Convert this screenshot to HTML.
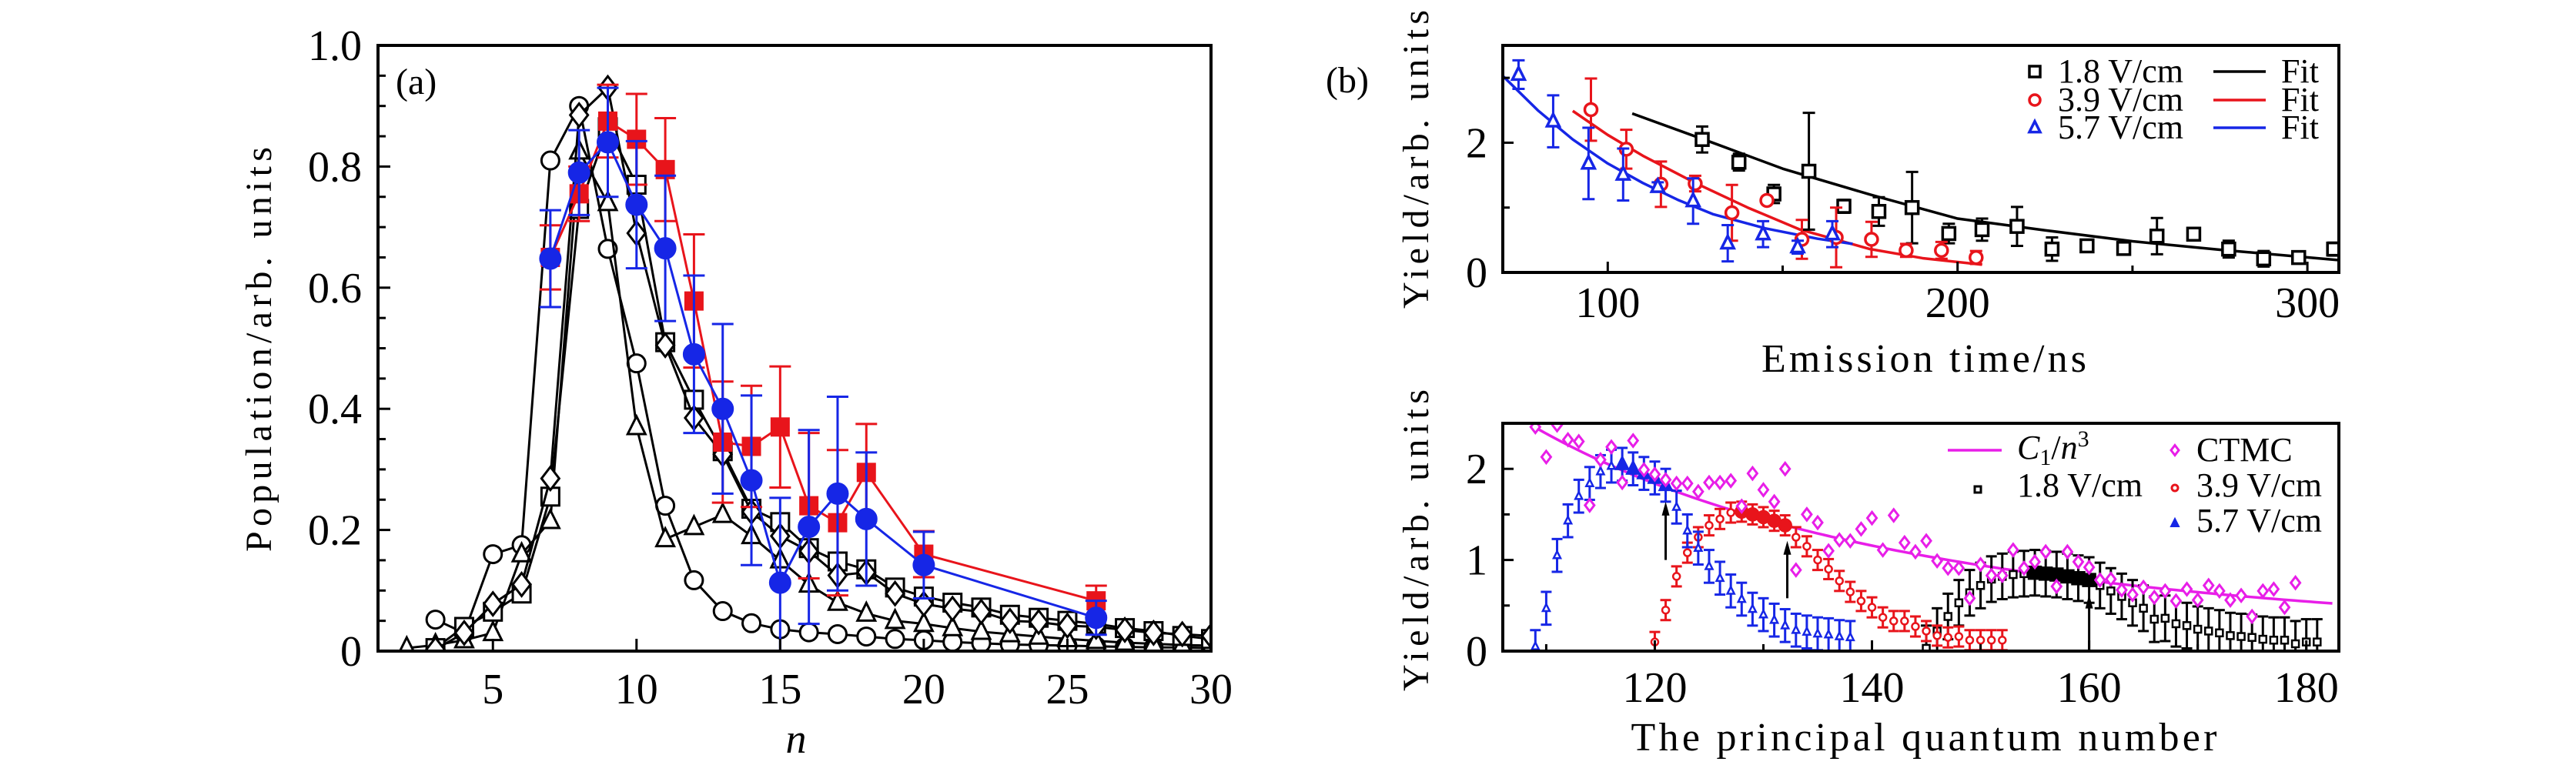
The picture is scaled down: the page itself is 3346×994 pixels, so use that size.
<!DOCTYPE html>
<html><head><meta charset="utf-8"><style>
html,body{margin:0;padding:0;background:#fff;}
svg{display:block;font-family:"Liberation Serif",serif;}
</style></head><body>
<svg id="fig" width="3346" height="994" viewBox="0 0 3346 994" xmlns="http://www.w3.org/2000/svg">
<defs>
<clipPath id="clipA"><rect x="491" y="40" width="1082" height="806"/></clipPath>
<clipPath id="clipB1"><rect x="1952" y="40" width="1086" height="314"/></clipPath>
<clipPath id="clipB2"><rect x="1952" y="550" width="1086" height="296"/></clipPath>
</defs>
</svg>
<script>
// ---------- Panel (a) data ----------
const aN = [2,3,4,5,6,7,8,9,10,11,12,13,14,15,16,17,18,19,20,21,22,23,24,25,26,27,28,29,30];
const aCircle = [null,0.052,0.03,0.16,0.175,0.81,0.90,0.664,0.475,0.24,0.117,0.066,0.046,0.036,0.031,0.028,0.024,0.02,0.018,0.015,0.013,0.011,0.01,0.009,0.008,0.007,0.006,0.006,0.005];
const aTriangle = [0.005,0.01,0.018,0.03,0.16,0.215,0.825,0.74,0.37,0.185,0.205,0.225,0.19,0.15,0.11,0.08,0.062,0.05,0.045,0.038,0.032,0.028,0.024,0.02,0.017,0.014,0.012,0.01,0.009];
const aSquare = [null,0.005,0.04,0.065,0.095,0.255,0.73,0.865,0.77,0.51,0.415,0.33,0.235,0.213,0.17,0.148,0.135,0.105,0.09,0.08,0.072,0.06,0.055,0.05,0.045,0.038,0.033,0.025,0.02];
const aDiamond = [null,0.003,0.03,0.078,0.11,0.285,0.885,0.93,0.69,0.505,0.385,0.325,0.23,0.19,0.165,0.125,0.13,0.095,0.078,0.07,0.065,0.05,0.048,0.042,0.04,0.035,0.03,0.028,0.025];
const aExpN = [7,8,9,10,11,12,13,14,15,16,17,18,20,26];
const aRed = [0.65,0.755,0.875,0.845,0.795,0.578,0.345,0.338,0.37,0.24,0.212,0.295,0.16,0.083];
const aRedErr = [0.053,0.045,0.06,0.075,0.085,0.11,0.1,0.1,0.1,0.12,0.12,0.08,0.038,0.025];
const aBlue = [0.648,0.79,0.84,0.737,0.665,0.49,0.4,0.282,0.113,0.205,0.26,0.218,0.142,0.055];
const aBlueErr = [0.08,0.07,0.09,0.105,0.12,0.13,0.14,0.14,0.14,0.16,0.16,0.11,0.055,0.028];
const aXTicks = [5,10,15,20,25,30];
const aYTicks = [0,0.2,0.4,0.6,0.8,1.0];
const aYTickLabels = ["0","0.2","0.4","0.6","0.8","1.0"];

// ---------- Panel (b) top data ----------
const bBlackT = [127,137.5,147.5,157.5,167.5,177.5,187,197.5,207,217,227,237,247.5,257,267.5,277.5,287.5,297.5,307.5];
const bBlackY = [2.05,1.7,1.21,1.56,1.02,0.94,1.0,0.6,0.66,0.71,0.36,0.41,0.37,0.56,0.59,0.36,0.21,0.23,0.36];
const bBlackErr = [0.2,0.13,0.14,0.9,0.1,0.22,0.55,0.15,0.17,0.3,0.18,0.05,0.07,0.28,0.05,0.13,0.12,0.06,0.1];
const bRedT = [95.2,105.3,115.2,125,135.5,145.5,155.5,165.3,175.4,185.3,195.4,205.3];
const bRedY = [2.51,1.9,1.36,1.37,0.92,1.11,0.51,0.54,0.51,0.34,0.34,0.23];
const bRedErr = [0.48,0.3,0.35,0.12,0.43,0.05,0.3,0.46,0.27,0.1,0.13,0.1];
const bBlueT = [74.5,84.4,94.5,104.4,114.3,124.4,134.3,144.4,154.3,164.2];
const bBlueY = [3.05,2.33,1.68,1.51,1.32,1.1,0.45,0.59,0.39,0.59];
const bBlueErr = [0.22,0.4,0.55,0.4,0.07,0.35,0.28,0.2,0.1,0.2];
const fitBlackT = [107,130,150,175,200,225,250,275,309];
const fitBlackY = [2.45,2.0,1.6,1.2,0.83,0.65,0.48,0.35,0.19];
const fitRedT = [90,100,110,125,140,155,175,190,207];
const fitRedY = [2.49,2.12,1.8,1.38,1.0,0.66,0.36,0.22,0.12];
const fitBlueT = [70,80,90,100,110,120,130,145,160,170];
const fitBlueY = [3.03,2.5,2.05,1.68,1.38,1.12,0.9,0.68,0.52,0.44];
const b1XTicks = [100,200,300];
const b1YTicks = [0,2];

// ---------- Panel (b) bottom data ----------
const ctmcStartN = 109;
const ctmcY = [2.46,2.13,2.48,2.32,2.3,1.6,2.1,2.24,1.85,2.31,1.99,1.94,1.88,1.84,1.84,1.75,1.85,1.85,1.87,1.59,1.95,1.77,1.64,2.0,0.89,1.5,1.41,1.1,1.22,1.21,1.34,1.46,1.11,1.49,1.19,1.09,1.21,0.99,0.91,0.91,0.58,0.95,0.83,0.83,1.11,0.91,0.98,1.09,0.71,1.09,0.98,0.92,0.78,0.79,0.67,0.62,0.7,0.59,0.66,0.55,0.68,0.56,0.72,0.66,0.56,0.61,0.38,0.66,0.68,0.48,0.75];
const c1Params = [2.46, 108.9];
const c1Range = [108.9,182.5];
const blueStartN = 109;
const blueY = [0.05,0.47,1.05,1.43,1.7,1.84,1.97,2.03,2.05,2.0,1.95,1.9,1.82,1.58,1.32,1.13,0.93,0.8,0.66,0.57,0.46,0.4,0.34,0.28,0.23,0.21,0.19,0.18,0.16,0.15];
const blueFilled = [117,121];
const redStartN = 120;
const redY = [0.1,0.45,0.82,1.08,1.25,1.38,1.45,1.52,1.53,1.5,1.47,1.43,1.38,1.25,1.15,1.0,0.9,0.77,0.65,0.55,0.48,0.37,0.33,0.33,0.27,0.22,0.17,0.15,0.16,0.12,0.12,0.12,0.12];
const redFilled = [128,132];
const blackStartN = 145;
const blackY = [0.03,0.22,0.38,0.53,0.64,0.72,0.79,0.82,0.84,0.85,0.86,0.85,0.84,0.82,0.8,0.78,0.72,0.66,0.6,0.53,0.47,0.35,0.36,0.3,0.28,0.24,0.22,0.2,0.17,0.16,0.15,0.13,0.12,0.12,0.08,0.1,0.1];
const blackFilled = [155,160];
const arrowN = [121,132.2,160];
const arrowFrom = [1.0,0.58,0];
const arrowTo = [1.64,1.21,0.62];
const b2XTicks = [120,140,160,180];
const b2YTicks = [0,1,2];

const svg = document.getElementById('fig');
const NS = 'http://www.w3.org/2000/svg';
function mk(tag, attrs, name, parent) {
  const el = document.createElementNS(NS, tag);
  for (const k in attrs) el.setAttribute(k, attrs[k]);
  
  
  (parent || svg).appendChild(el);
  return el;
}
function txt(s, attrs, name, parent) { const t = mk('text', attrs, name, parent); t.textContent = s; return t; }
function scale(d0,d1,r0,r1){ return v => r0 + (v-d0)*(r1-r0)/(d1-d0); }

function marker(g, shape, x, y, r, stroke, fill, sw, name) {
  if (shape === 'circle') return mk('circle',{cx:x,cy:y,r:r,fill:fill,stroke:stroke,'stroke-width':sw},name,g);
  if (shape === 'square') return mk('rect',{x:x-r,y:y-r,width:2*r,height:2*r,fill:fill,stroke:stroke,'stroke-width':sw},name,g);
  if (shape === 'diamond') return mk('polygon',{points:`${x},${y-r*1.3} ${x+r},${y} ${x},${y+r*1.3} ${x-r},${y}`,fill:fill,stroke:stroke,'stroke-width':sw},name,g);
  if (shape === 'triangle') return mk('polygon',{points:`${x},${y-r*1.2} ${x+r},${y+r*0.8} ${x-r},${y+r*0.8}`,fill:fill,stroke:stroke,'stroke-width':sw},name,g);
}
function errbar(g, x, y1, y2, cap, color, sw, name) {
  mk('line',{x1:x,y1:y1,x2:x,y2:y2,stroke:color,'stroke-width':sw},name,g);
  mk('line',{x1:x-cap,y1:y1,x2:x+cap,y2:y1,stroke:color,'stroke-width':sw},name+'-cap',g);
  mk('line',{x1:x-cap,y1:y2,x2:x+cap,y2:y2,stroke:color,'stroke-width':sw},name+'-cap',g);
}
function frame(L,T,R,B,name){ mk('rect',{x:L,y:T,width:R-L,height:B-T,fill:'none',stroke:'#000','stroke-width':4},name); }

// ================= Panel (a) =================
(function(){
  const L=491,R=1573,T=59,B=846;
  const X=scale(1,30,L,R), Y=scale(0,1,B,T);
  const g = mk('g',{'clip-path':'url(#clipA)'},'panel-a-plot-area');
  function series(vals, shape, name){
    let pts=[];
    aN.forEach((n,i)=>{ if(vals[i]!==null) pts.push([X(n),Y(vals[i])]); });
    mk('polyline',{points:pts.map(p=>p.join(',')).join(' '),fill:'none',stroke:'#000','stroke-width':3},name+'-line',g);
    pts.forEach(p=>marker(g,shape,p[0],p[1],11.5,'#000','#fff',3,name+'-marker'));
  }
  series(aCircle,'circle','circle-series');
  series(aTriangle,'triangle','triangle-series');
  series(aSquare,'square','square-series');
  series(aDiamond,'diamond','diamond-series');
  function expSeries(vals, errs, color, shape, name){
    const pts = aExpN.map((n,i)=>[X(n),Y(vals[i])]);
    mk('polyline',{points:pts.map(p=>p.join(',')).join(' '),fill:'none',stroke:color,'stroke-width':3},name+'-line',g);
    aExpN.forEach((n,i)=>errbar(g,X(n),Y(Math.max(0,vals[i]-errs[i])),Y(vals[i]+errs[i]),14,color,3,name+'-error-bar'));
    pts.forEach(p=>marker(g,shape,p[0],p[1],shape==='circle'?14:12,color,color,1,name+'-marker'));
  }
  expSeries(aRed,aRedErr,'#e8141b','square','red-exp-series');
  expSeries(aBlue,aBlueErr,'#1626e6','circle','blue-exp-series');
  frame(L,T,R,B,'panel-a-frame');
  aXTicks.forEach(v=>{
    mk('line',{x1:X(v),y1:B,x2:X(v),y2:B-16,stroke:'#000','stroke-width':3},'x-tick');
    txt(String(v),{x:X(v),y:914,'font-size':56,'text-anchor':'middle'},'x-tick-label');
  });
  for(let v=0.05; v<1; v+=0.05){ const major = Math.abs(v*5-Math.round(v*5))<1e-6;
    mk('line',{x1:L,y1:Y(v),x2:L+(major?16:10),y2:Y(v),stroke:'#000','stroke-width':3},'y-tick'); }
  aYTicks.forEach((v,i)=>{
    txt(aYTickLabels[i],{x:470,y:Y(v)+19,'font-size':56,'text-anchor':'end'},'y-tick-label');
  });
  txt('(a)',{x:514,y:122,'font-size':48},'panel-a-label');
  txt('Population/arb. units',{x:0,y:0,'font-size':48,'text-anchor':'middle',transform:'translate(352,454) rotate(-90)',textLength:526},'y-axis-title');
  txt('n',{x:1034,y:978,'font-size':54,'font-style':'italic','text-anchor':'middle'},'x-axis-title');
})();

// ================= Panel (b) top =================
(function(){
  const L=1952,R=3038,T=59,B=354;
  const X=scale(70,309,L,R), Y=scale(0,3.5,B,T);
  const g = mk('g',{'clip-path':'url(#clipB1)'},'panel-b-top-plot-area');
  function fit(ts,ys,color,name){
    mk('polyline',{points:ts.map((t,i)=>X(t)+','+Y(ys[i])).join(' '),fill:'none',stroke:color,'stroke-width':3.5,'stroke-linejoin':'round'},name,g);
  }
  fit(fitBlackT,fitBlackY,'#000','fit-black');
  fit(fitRedT,fitRedY,'#e8141b','fit-red');
  fit(fitBlueT,fitBlueY,'#1626e6','fit-blue');
  function pts(ts,ys,es,color,shape,name){
    ts.forEach((t,i)=>errbar(g,X(t),Y(Math.max(0,ys[i]-es[i])),Y(ys[i]+es[i]),8,color,3,name+'-error-bar'));
    ts.forEach((t,i)=>marker(g,shape,X(t),Y(ys[i]),8,color,'#fff',3.5,name+'-marker'));
  }
  pts(bBlackT,bBlackY,bBlackErr,'#000','square','black-1p8-series');
  pts(bRedT,bRedY,bRedErr,'#e8141b','circle','red-3p9-series');
  pts(bBlueT,bBlueY,bBlueErr,'#1626e6','triangle','blue-5p7-series');
  frame(L,T,R,B,'panel-b-top-frame');
  b1XTicks.forEach(v=>{
    mk('line',{x1:X(v),y1:B,x2:X(v),y2:B-14,stroke:'#000','stroke-width':3},'x-tick');
    txt(String(v),{x:X(v),y:412,'font-size':56,'text-anchor':'middle'},'x-tick-label');
  });
  [150,250].forEach(v=>mk('line',{x1:X(v),y1:B,x2:X(v),y2:B-9,stroke:'#000','stroke-width':3},'x-minor-tick'));
  [1,3].forEach(v=>mk('line',{x1:L,y1:Y(v),x2:L+9,y2:Y(v),stroke:'#000','stroke-width':3},'y-minor-tick'));
  b1YTicks.forEach(v=>{
    mk('line',{x1:L,y1:Y(v),x2:L+14,y2:Y(v),stroke:'#000','stroke-width':3},'y-tick');
    txt(String(v),{x:1932,y:Y(v)+19,'font-size':56,'text-anchor':'end'},'y-tick-label');
  });
  const lg = mk('g',{},'panel-b-top-legend');
  const rows=[[93,'#000','square','1.8 V/cm'],[130,'#e8141b','circle','3.9 V/cm'],[166,'#1626e6','triangle','5.7 V/cm']];
  rows.forEach(r=>{
    marker(lg,r[2],2643,r[0],7,r[1],'#fff',3.5,'legend-marker');
    txt(r[3],{x:2673,y:r[0]+14,'font-size':44},'legend-label',lg);
    mk('line',{x1:2875,y1:r[0],x2:2943,y2:r[0],stroke:r[1],'stroke-width':3.5},'legend-fit-line',lg);
    txt('Fit',{x:2963,y:r[0]+14,'font-size':44},'legend-fit-label',lg);
  });
  txt('(b)',{x:1722,y:120,'font-size':48},'panel-b-label');
  txt('Yield/arb. units',{x:0,y:0,'font-size':48,'text-anchor':'middle',transform:'translate(1855,207) rotate(-90)',textLength:388},'y-axis-title-top');
  txt('Emission time/ns',{x:2499,y:483,'font-size':52,'text-anchor':'middle',textLength:422},'x-axis-title-top');
})();

// ================= Panel (b) bottom =================
(function(){
  const L=1952,R=3038,T=550,B=846;
  const X=scale(106,183,L,R), Y=scale(0,2.5,B,T);
  const g = mk('g',{'clip-path':'url(#clipB2)'},'panel-b-bottom-plot-area');
  let cp=[];
  for(let n=c1Range[0]; n<=c1Range[1]; n+=0.5){ cp.push(X(n)+','+Y(c1Params[0]*Math.pow(c1Params[1]/n,3))); }
  mk('polyline',{points:cp.join(' '),fill:'none',stroke:'#e81ee8','stroke-width':3.5},'c1-n3-curve',g);
  function exp(start, ys, err, color, shape, filled, name){
    ys.forEach((v,i)=>errbar(g,X(start+i),Y(Math.max(0,v-err)),Y(v+err),7,color,3,name+'-error-bar'));
    ys.forEach((v,i)=>{ const n=start+i; const f = n>=filled[0] && n<=filled[1];
      marker(g,shape,X(n),Y(v),f?8:4.5,color,f?color:'#fff',2.5,name+'-marker'); });
  }
  exp(blackStartN,blackY,0.25,'#000','square',blackFilled,'black-1p8-series');
  exp(redStartN,redY,0.11,'#e8141b','circle',redFilled,'red-3p9-series');
  exp(blueStartN,blueY,0.18,'#1626e6','triangle',blueFilled,'blue-5p7-series');
  ctmcY.forEach((v,i)=>marker(g,'diamond',X(ctmcStartN+i),Y(v),6,'#e81ee8','#fff',3,'ctmc-marker'));
  arrowN.forEach((n,i)=>{
    mk('line',{x1:X(n),y1:Y(arrowFrom[i]),x2:X(n),y2:Y(arrowTo[i])+14,stroke:'#000','stroke-width':3},'arrow-shaft',g);
    mk('polygon',{points:`${X(n)},${Y(arrowTo[i])} ${X(n)-5},${Y(arrowTo[i])+18} ${X(n)+5},${Y(arrowTo[i])+18}`,fill:'#000'},'arrow-head',g);
  });
  frame(L,T,R,B,'panel-b-bottom-frame');
  b2XTicks.forEach(v=>{
    mk('line',{x1:X(v),y1:B,x2:X(v),y2:B-14,stroke:'#000','stroke-width':3},'x-tick');
    txt(String(v),{x:X(v),y:912,'font-size':56,'text-anchor':'middle'},'x-tick-label');
  });
  [110,130,150,170].forEach(v=>mk('line',{x1:X(v),y1:B,x2:X(v),y2:B-9,stroke:'#000','stroke-width':3},'x-minor-tick'));
  [0.5,1.5].forEach(v=>mk('line',{x1:L,y1:Y(v),x2:L+9,y2:Y(v),stroke:'#000','stroke-width':3},'y-minor-tick'));
  b2YTicks.forEach(v=>{
    mk('line',{x1:L,y1:Y(v),x2:L+14,y2:Y(v),stroke:'#000','stroke-width':3},'y-tick');
    txt(String(v),{x:1932,y:Y(v)+19,'font-size':56,'text-anchor':'end'},'y-tick-label');
  });
  const lg = mk('g',{},'panel-b-bottom-legend');
  mk('line',{x1:2530,y1:585,x2:2600,y2:585,stroke:'#e81ee8','stroke-width':3.5},'legend-c1-line',lg);
  const c1t = txt('',{x:2620,y:596,'font-size':44},'legend-c1-label',lg);
  c1t.innerHTML = '<tspan font-style="italic">C</tspan><tspan font-size="30" dy="8">1</tspan><tspan dy="-8">/</tspan><tspan font-style="italic">n</tspan><tspan font-size="30" dy="-16">3</tspan>';
  marker(lg,'diamond',2825,585,5,'#e81ee8','#fff',3,'legend-ctmc-marker');
  txt('CTMC',{x:2853,y:599,'font-size':44},'legend-ctmc-label',lg);
  marker(lg,'square',2569,636,4,'#000','#fff',3,'legend-1p8-marker');
  txt('1.8 V/cm',{x:2620,y:645,'font-size':44},'legend-1p8-label',lg);
  marker(lg,'circle',2825,634,4,'#e8141b','#fff',3,'legend-3p9-marker');
  txt('3.9 V/cm',{x:2853,y:645,'font-size':44},'legend-3p9-label',lg);
  marker(lg,'triangle',2825,680,5,'#1626e6','#1626e6',2,'legend-5p7-marker');
  txt('5.7 V/cm',{x:2853,y:691,'font-size':44},'legend-5p7-label',lg);
  txt('Yield/arb. units',{x:0,y:0,'font-size':48,'text-anchor':'middle',transform:'translate(1855,702) rotate(-90)',textLength:392},'y-axis-title-bottom');
  txt('The principal quantum number',{x:2499,y:975,'font-size':52,'text-anchor':'middle',textLength:761},'x-axis-title-bottom');
})();
</script>
</body></html>
